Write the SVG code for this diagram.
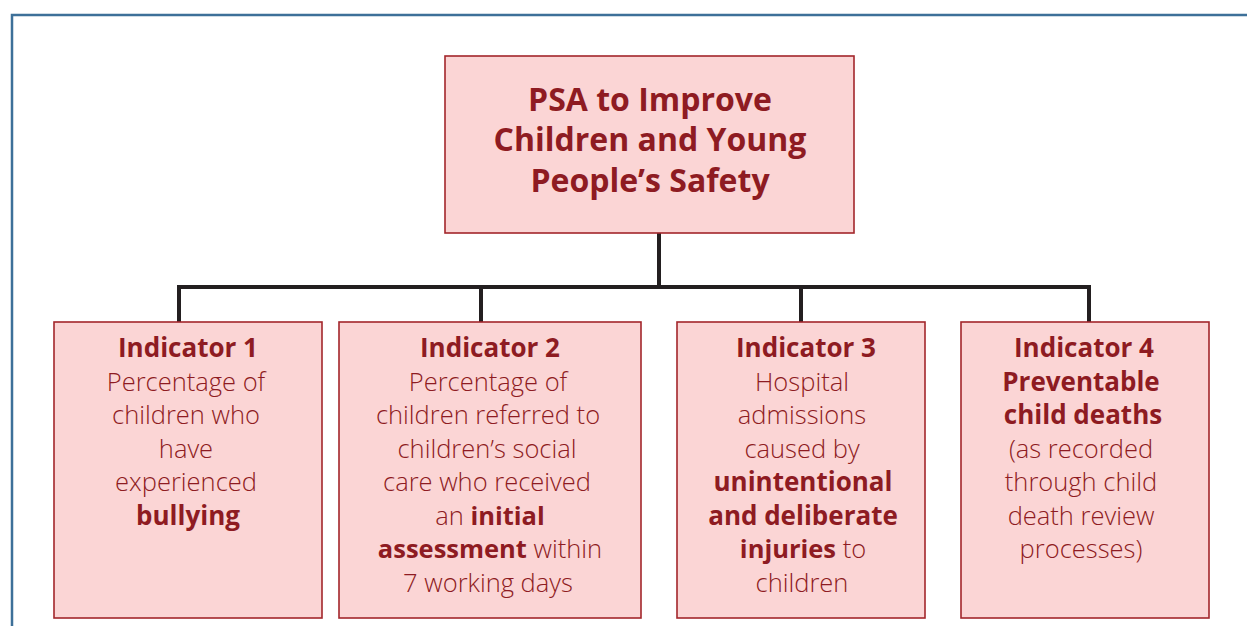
<svg xmlns="http://www.w3.org/2000/svg" width="1247" height="626" viewBox="0 0 1247 626">
<style>
.box{fill:#fbd5d5;stroke:#a3262b;stroke-width:1.6}
.t{font-family:"Open Sans","Liberation Sans",sans-serif;fill:#8e1b22;text-anchor:middle}
.title{font-size:32px;font-weight:700}
.b{font-size:26px;font-weight:700}
.l{font-size:25.5px;font-weight:300}
.bold{font-weight:700}
.conn{fill:none;stroke:#231f20;stroke-width:4}
</style>
<rect width="1247" height="626" fill="#ffffff"/>
<rect x="12" y="15" width="1260" height="640" fill="none" stroke="#3d7099" stroke-width="2.5"/>
<g id="connectors">
<path class="conn" d="M659 233V287M177 287H1091M179 287V322M481 287V322M801 287V322M1089 287V322"/>
</g>
<g id="root">
<rect class="box" x="445" y="56" width="409" height="177"/>
<text class="t title" x="650" y="111">PSA to Improve</text>
<text class="t title" x="650" y="151">Children and Young</text>
<text class="t title" x="650" y="192">People’s Safety</text>
</g>
<g id="indicator1">
<rect class="box" x="54" y="322" width="268" height="296"/>
<text class="t b" x="188" y="357">Indicator 1</text>
<text class="t l" x="186" y="391">Percentage of</text>
<text class="t l" x="186" y="424">children who</text>
<text class="t l" x="186" y="458">have</text>
<text class="t l" x="186" y="491">experienced</text>
<text class="t b" x="188" y="525">bullying</text>
</g>
<g id="indicator2">
<rect class="box" x="339" y="322" width="302" height="296"/>
<text class="t b" x="490" y="357">Indicator 2</text>
<text class="t l" x="488" y="391">Percentage of</text>
<text class="t l" x="488" y="424">children referred to</text>
<text class="t l" x="487" y="458">children’s social</text>
<text class="t l" x="487" y="491">care who received</text>
<text class="t l" x="490" y="525">an <tspan class="bold">initial</tspan></text>
<text class="t l" x="490" y="558"><tspan class="bold">assessment</tspan> within</text>
<text class="t l" x="488" y="592">7 working days</text>
</g>
<g id="indicator3">
<rect class="box" x="677" y="322" width="248" height="296"/>
<text class="t b" x="806" y="357">Indicator 3</text>
<text class="t l" x="802" y="391">Hospital</text>
<text class="t l" x="802" y="424">admissions</text>
<text class="t l" x="802" y="458">caused by</text>
<text class="t b" x="803" y="491">unintentional</text>
<text class="t b" x="803" y="525">and deliberate</text>
<text class="t l" x="803" y="558"><tspan class="bold">injuries</tspan> to</text>
<text class="t l" x="802" y="592">children</text>
</g>
<g id="indicator4">
<rect class="box" x="961" y="322" width="248" height="296"/>
<text class="t b" x="1084" y="357">Indicator 4</text>
<text class="t b" x="1081" y="391">Preventable</text>
<text class="t b" x="1083" y="424">child deaths</text>
<text class="t l" x="1081" y="458">(as recorded</text>
<text class="t l" x="1081" y="491">through child</text>
<text class="t l" x="1081" y="525">death review</text>
<text class="t l" x="1081" y="558">processes)</text>
</g>
</svg>
